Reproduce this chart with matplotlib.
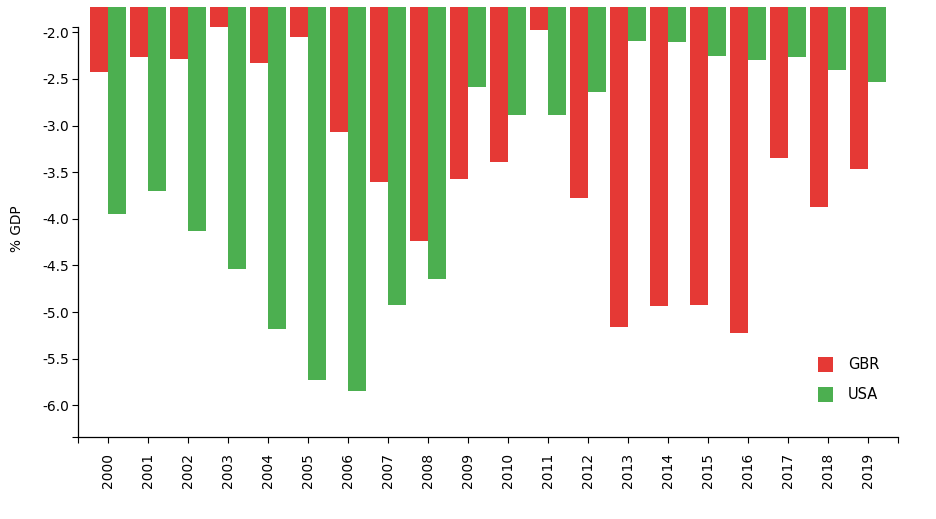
import matplotlib
matplotlib.use("Agg")
import matplotlib.pyplot as plt
from matplotlib.patches import Rectangle
import numpy as np

years = [str(y) for y in range(2000, 2020)]
gbr = [-2.43, -2.26, -2.29, -1.94, -2.325, -2.05, -3.065, -3.60, -4.24, -3.57,
       -3.39, -1.97, -3.78, -5.157, -4.94, -4.92, -5.23, -3.344, -3.87, -3.466]
usa = [-3.944, -3.698, -4.134, -4.538, -5.18, -5.725, -5.843, -4.928, -4.641, -2.59,
       -2.89, -2.883, -2.64, -2.093, -2.10, -2.25, -2.30, -2.27, -2.40, -2.53]
series_names = ["GBR", "USA"]
colors = ["#e53935", "#4caf50"]
yticks = [-2.0, -2.5, -3.0, -3.5, -4.0, -4.5, -5.0, -5.5, -6.0]

W, H = 937, 519
fig = plt.figure(figsize=(W / 100, H / 100), dpi=100)
plt.rcParams['font.family'] = ['DejaVu Sans']

ax_left, ax_right, ax_top, ax_bot = 78, 898, 7, 437
ax = fig.add_axes([ax_left / W, 1 - ax_bot / H, (ax_right - ax_left) / W, (ax_bot - ax_top) / H])

px_per_unit = 93.25
y_ref_px = 32.3
ytop = -2.0 + (y_ref_px - ax_top) / px_per_unit
ybot = -2.0 - (ax_bot - y_ref_px) / px_per_unit
axis_top = -2.0 + (y_ref_px - 27.3) / px_per_unit

x = np.arange(len(years))
bw = 0.45
g = np.array(gbr)
u = np.array(usa)
ax.bar(x - bw / 2, g - ytop, bottom=ytop, width=bw, color=colors[0], linewidth=0)
ax.bar(x + bw / 2, u - ytop, bottom=ytop, width=bw, color=colors[1], linewidth=0)

ax.set_xlim(-0.75, len(years) - 0.25)
ax.set_ylim(ybot, ytop)

for s in ["top", "right"]:
    ax.spines[s].set_visible(False)
ax.spines["left"].set_bounds(ybot, axis_top)
for s in ["left", "bottom"]:
    ax.spines[s].set_linewidth(0.9)

ax.set_yticks(yticks)
ax.set_yticklabels([f"{v:.1f}" for v in yticks])
ax.set_yticks([ybot, axis_top], minor=True)
ax.set_xticks(x)
ax.set_xticklabels(years, rotation=90, va="top", ha="center")
ax.set_xticks([-0.75, len(years) - 0.25], minor=True)

ax.tick_params(axis="both", which="both", length=4.3, width=0.8, labelsize=10, colors="black")
ax.tick_params(axis="y", which="major", pad=2.2)
ax.tick_params(axis="x", which="major", pad=7)

fig.text(17.5 / W, 1 - 229 / H, "% GDP", rotation=90, ha="center", va="center", fontsize=9.8)

# legend
for i, (name, c) in enumerate(zip(series_names, colors)):
    top_px = 357 + 30 * i
    fig.patches.append(Rectangle((818 / W, 1 - (top_px + 15) / H), 15 / W, 15 / H,
                                 transform=fig.transFigure, color=c, linewidth=0))
    fig.text(848 / W, 1 - (top_px + 7.5) / H, name, ha="left", va="center", fontsize=10.5)

fig.savefig("out.png", dpi=100)
